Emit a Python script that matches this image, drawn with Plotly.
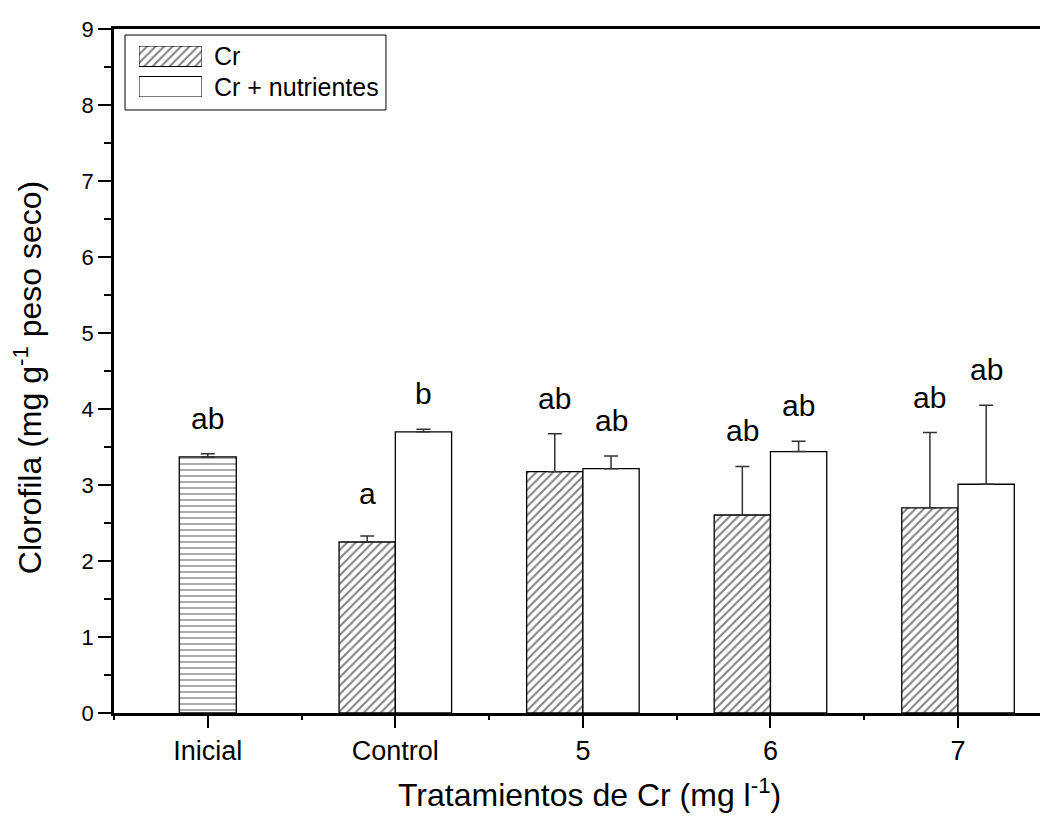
import plotly.graph_objects as go

# ---- data ----
categories = ["Inicial", "Control", "5", "6", "7"]

inicial_x = [0]
inicial_val = [3.37]
inicial_err = [0.04]
inicial_letters = ["ab"]

cr_x = [1, 2, 3, 4]
cr_val = [2.25, 3.175, 2.605, 2.70]
cr_err = [0.08, 0.50, 0.64, 0.99]
cr_letters = ["a", "ab", "ab", "ab"]

nut_x = [1, 2, 3, 4]
nut_val = [3.70, 3.215, 3.44, 3.01]
nut_err = [0.035, 0.165, 0.135, 1.04]
nut_letters = ["b", "ab", "ab", "ab"]

legend_names = ["Cr", "Cr + nutrientes"]

FONT = "Liberation Sans, Arial, sans-serif"
BAR_W = 0.30

HATCH = dict(shape="/", fgcolor="black", bgcolor="white", size=6, solidity=0.32)
HLINES = dict(shape="-", fgcolor="black", bgcolor="white", size=6, solidity=0.22)

fig = go.Figure()

err_style = dict(type="data", symmetric=False, color="#333333", thickness=1.5, width=7)

fig.add_trace(go.Bar(
    x=inicial_x, y=inicial_val, width=0.304, offset=-0.152,
    marker=dict(color="white", line=dict(color="black", width=1.3), pattern=HLINES),
    error_y=dict(array=inicial_err, arrayminus=[0] * len(inicial_err), **err_style),
    showlegend=False))

fig.add_trace(go.Bar(
    x=cr_x, y=cr_val, width=BAR_W, offset=-BAR_W,
    marker=dict(color="white", line=dict(color="black", width=1.3), pattern=HATCH),
    error_y=dict(array=cr_err, arrayminus=[0] * len(cr_err), **err_style),
    showlegend=False))

fig.add_trace(go.Bar(
    x=nut_x, y=nut_val, width=BAR_W, offset=0,
    marker=dict(color="white", line=dict(color="black", width=1.3)),
    error_y=dict(array=nut_err, arrayminus=[0] * len(nut_err), **err_style),
    showlegend=False))

# ---- legend swatches drawn on a small hidden inset axis ----
fig.add_trace(go.Bar(
    x=[1], y=[0], base=0, orientation="h", width=0.672, xaxis="x2", yaxis="y2",
    marker=dict(color="white", line=dict(color="black", width=1), pattern=HATCH),
    showlegend=False, hoverinfo="skip"))
fig.add_trace(go.Bar(
    x=[1], y=[1], base=0, orientation="h", width=0.672, xaxis="x2", yaxis="y2",
    marker=dict(color="white", line=dict(color="black", width=1)),
    showlegend=False, hoverinfo="skip"))

annotations = []
# significance letters
def add_letters(xs, vals, errs, letters, dx):
    for x, v, e, t in zip(xs, vals, errs, letters):
        lift = 17 + (7 if t == "a" else 0)
        annotations.append(dict(x=x + dx, y=v + e, xref="x", yref="y", text=t,
                                showarrow=False, yanchor="bottom", yshift=lift,
                                font=dict(family=FONT, size=30, color="black")))

add_letters(inicial_x, inicial_val, inicial_err, inicial_letters, 0)
add_letters(cr_x, cr_val, cr_err, cr_letters, -BAR_W / 2)
add_letters(nut_x, nut_val, nut_err, nut_letters, BAR_W / 2)

# legend texts
for name, yy in zip(legend_names, [0.9605, 0.9152]):
    annotations.append(dict(x=0.1058, y=yy, xref="paper", yref="paper", text=name,
                            showarrow=False, xanchor="left", yanchor="middle",
                            font=dict(family=FONT, size=25, color="black")))

# axis titles
annotations.append(dict(x=0.514, y=-0.117, xref="paper", yref="paper",
                        text="Tratamientos de Cr (mg l<sup>-1</sup>)", showarrow=False,
                        xanchor="center", yanchor="middle",
                        font=dict(family=FONT, size=32, color="black")))
annotations.append(dict(x=-0.0929, y=0.491, xref="paper", yref="paper",
                        text="Clorofila (mg g<sup>-1</sup> peso seco)", showarrow=False,
                        textangle=-90, xanchor="center", yanchor="middle",
                        font=dict(family=FONT, size=32, color="black")))

fig.update_layout(
    width=1040, height=816,
    margin=dict(l=114, r=0, t=29, b=103),
    paper_bgcolor="white", plot_bgcolor="white",
    barmode="overlay",
    font=dict(family=FONT, color="black"),
    annotations=annotations,
    shapes=[dict(type="rect", xref="paper", yref="paper",
                 x0=0.0119, x1=0.2937, y0=0.8816, y1=0.9912,
                 line=dict(color="black", width=1), fillcolor="rgba(0,0,0,0)", layer="below")],
    xaxis=dict(range=[-0.5, 4.437], tickmode="array", tickvals=list(range(len(categories))),
               ticktext=categories, ticks="outside", ticklen=12, tickwidth=2, tickcolor="black",
               showline=True, linewidth=2.5, linecolor="black", mirror=True,
               showgrid=False, zeroline=False,
               tickfont=dict(family=FONT, size=27, color="black"),
               minor=dict(tickmode="array", tickvals=[-0.5, 0.5, 1.5, 2.5, 3.5],
                          ticks="outside", ticklen=4, tickwidth=2, tickcolor="black")),
    yaxis=dict(range=[0, 9], dtick=1, ticks="outside", ticklen=13, tickwidth=2, tickcolor="black",
               showline=True, linewidth=2.5, linecolor="black",
               showgrid=False, zeroline=False,
               tickfont=dict(family=FONT, size=22, color="black"),
               minor=dict(dtick=0.5, ticks="outside", ticklen=7, tickwidth=2, tickcolor="black")),
    xaxis2=dict(domain=[0.0270, 0.0950], range=[0, 1], visible=False, fixedrange=True,
                anchor="y2"),
    yaxis2=dict(domain=[0.9006, 0.9751], range=[1.336, -0.336], visible=False, fixedrange=True,
                anchor="x2"),
)

fig.write_html("out.html")
